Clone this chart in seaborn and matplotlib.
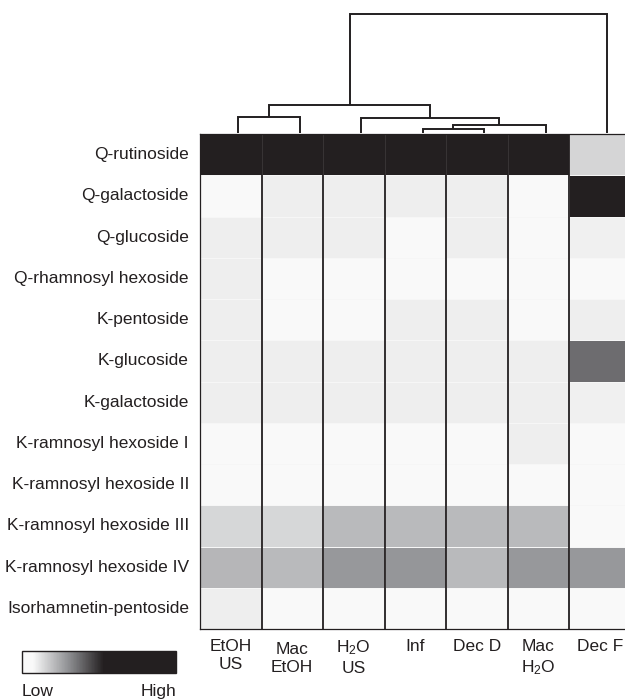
import matplotlib
matplotlib.use("Agg")
import matplotlib.pyplot as plt
import matplotlib.transforms as mtransforms
import numpy as np
import pandas as pd
import seaborn as sns
from matplotlib.colors import LinearSegmentedColormap

# ---------------- data ----------------
compounds = [
    "Q-rutinoside", "Q-galactoside", "Q-glucoside", "Q-rhamnosyl hexoside",
    "K-pentoside", "K-glucoside", "K-galactoside", "K-ramnosyl hexoside I",
    "K-ramnosyl hexoside II", "K-ramnosyl hexoside III", "K-ramnosyl hexoside IV",
    "Isorhamnetin-pentoside",
]
samples = ["EtOH\nUS", "Mac\nEtOH", "H$_2$O\nUS", "Inf", "Dec D", "Mac\nH$_2$O", "Dec F"]

etoh_us  = [1.0, 0.05, 0.095, 0.095, 0.095, 0.095, 0.095, 0.05, 0.05, 0.147, 0.215, 0.095]
mac_etoh = [1.0, 0.095, 0.095, 0.05, 0.05, 0.095, 0.095, 0.05, 0.05, 0.147, 0.209, 0.05]
h2o_us   = [1.0, 0.095, 0.095, 0.05, 0.05, 0.095, 0.095, 0.05, 0.05, 0.209, 0.284, 0.05]
inf      = [1.0, 0.095, 0.05, 0.05, 0.095, 0.095, 0.095, 0.05, 0.05, 0.209, 0.286, 0.05]
dec_d    = [1.0, 0.095, 0.095, 0.05, 0.095, 0.095, 0.095, 0.05, 0.05, 0.209, 0.209, 0.05]
mac_h2o  = [1.0, 0.05, 0.05, 0.05, 0.05, 0.095, 0.095, 0.095, 0.05, 0.209, 0.284, 0.05]
dec_f    = [0.149, 1.0, 0.09, 0.05, 0.095, 0.372, 0.09, 0.05, 0.05, 0.05, 0.284, 0.05]

# column dendrogram: merge i joins cluster merge_a[i] with merge_b[i] at heights[i]
# (leaves 0..6, new clusters numbered 7, 8, ...)
merge_a = [0, 3, 8, 2, 7, 11]
merge_b = [1, 4, 5, 9, 10, 6]
merge_heights = [16.0, 4.4, 8.4, 15.4, 27.7, 118.7]

# ---------------- style ----------------
sns.set_theme(style="white")
plt.rcParams["font.family"] = ["Liberation Sans", "DejaVu Sans"]
plt.rcParams["mathtext.default"] = "regular"
INK = "#231f20"

df = pd.DataFrame(
    np.array([etoh_us, mac_etoh, h2o_us, inf, dec_d, mac_h2o, dec_f]).T,
    index=compounds, columns=samples,
)

cmap = LinearSegmentedColormap.from_list(
    "lowhigh",
    [(0.0, "#f9f9f9"), (0.07, "#f9f9f9"), (0.30, "#8f9093"), (0.53, INK), (1.0, INK)],
)

W, H = 625, 700
fig = plt.figure(figsize=(W / 100, H / 100), dpi=100)

def px_axes(x0, y_top, x1, y_bot):
    return fig.add_axes([x0 / W, 1 - y_bot / H, (x1 - x0) / W, (y_bot - y_top) / H])

ax = px_axes(200, 134, 630.5, 629)
cax = px_axes(22, 650.7, 176, 672.7)
dax = px_axes(207.3, 13, 637.8, 133)

sns.heatmap(
    df, ax=ax, cmap=cmap, vmin=0, vmax=1, cbar_ax=cax,
    cbar_kws=dict(orientation="horizontal"),
    linewidths=0.5, linecolor="#f6f6f6",
)

for xv in range(1, len(samples)):
    ax.axvline(xv, color=INK, lw=1.3, zorder=5)
for side in ["left", "bottom", "top"]:
    ax.spines[side].set_visible(True)
    ax.spines[side].set_color(INK)
    ax.spines[side].set_linewidth(0.9)

ax.set_xlabel("")
ax.set_ylabel("")
ax.tick_params(axis="both", length=0)
ax.tick_params(axis="x", pad=7)
ax.tick_params(axis="y", pad=8)
ax.set_xticklabels(samples, rotation=0, fontsize=12.5, color=INK, linespacing=1.3)
ax.set_yticklabels(compounds, rotation=0, fontsize=12.5, color=INK)
for lab in ax.get_xticklabels():
    if lab.get_text() == "Mac\nEtOH":
        lab.set_transform(lab.get_transform() +
                          mtransforms.ScaledTranslation(0, -3 / 100, fig.dpi_scale_trans))

# colorbar
cax.set_xticks([])
cax.set_yticks([])
cbar = ax.collections[0].colorbar
cbar.outline.set_edgecolor(INK)
cbar.outline.set_linewidth(1.0)
fig.text(22 / W, 1 - 696 / H, "Low", ha="left", va="baseline", fontsize=12.5, color=INK)
fig.text(176 / W, 1 - 696 / H, "High", ha="right", va="baseline", fontsize=12.5, color=INK)

# dendrogram
pos = {i: i + 0.5 for i in range(len(samples))}
hgt = {i: 0.0 for i in range(len(samples))}
for k, (a, b, h) in enumerate(zip(merge_a, merge_b, merge_heights)):
    xa, xb = pos[a], pos[b]
    dax.plot([xa, xa, xb, xb], [hgt[a], h, h, hgt[b]], color=INK, lw=1.4,
             solid_joinstyle="miter", solid_capstyle="butt")
    nid = len(samples) + k
    pos[nid] = (xa + xb) / 2
    hgt[nid] = h
dax.set_xlim(0, len(samples))
dax.set_ylim(0, 120)
dax.axis("off")

fig.savefig("out.png", dpi=100)
